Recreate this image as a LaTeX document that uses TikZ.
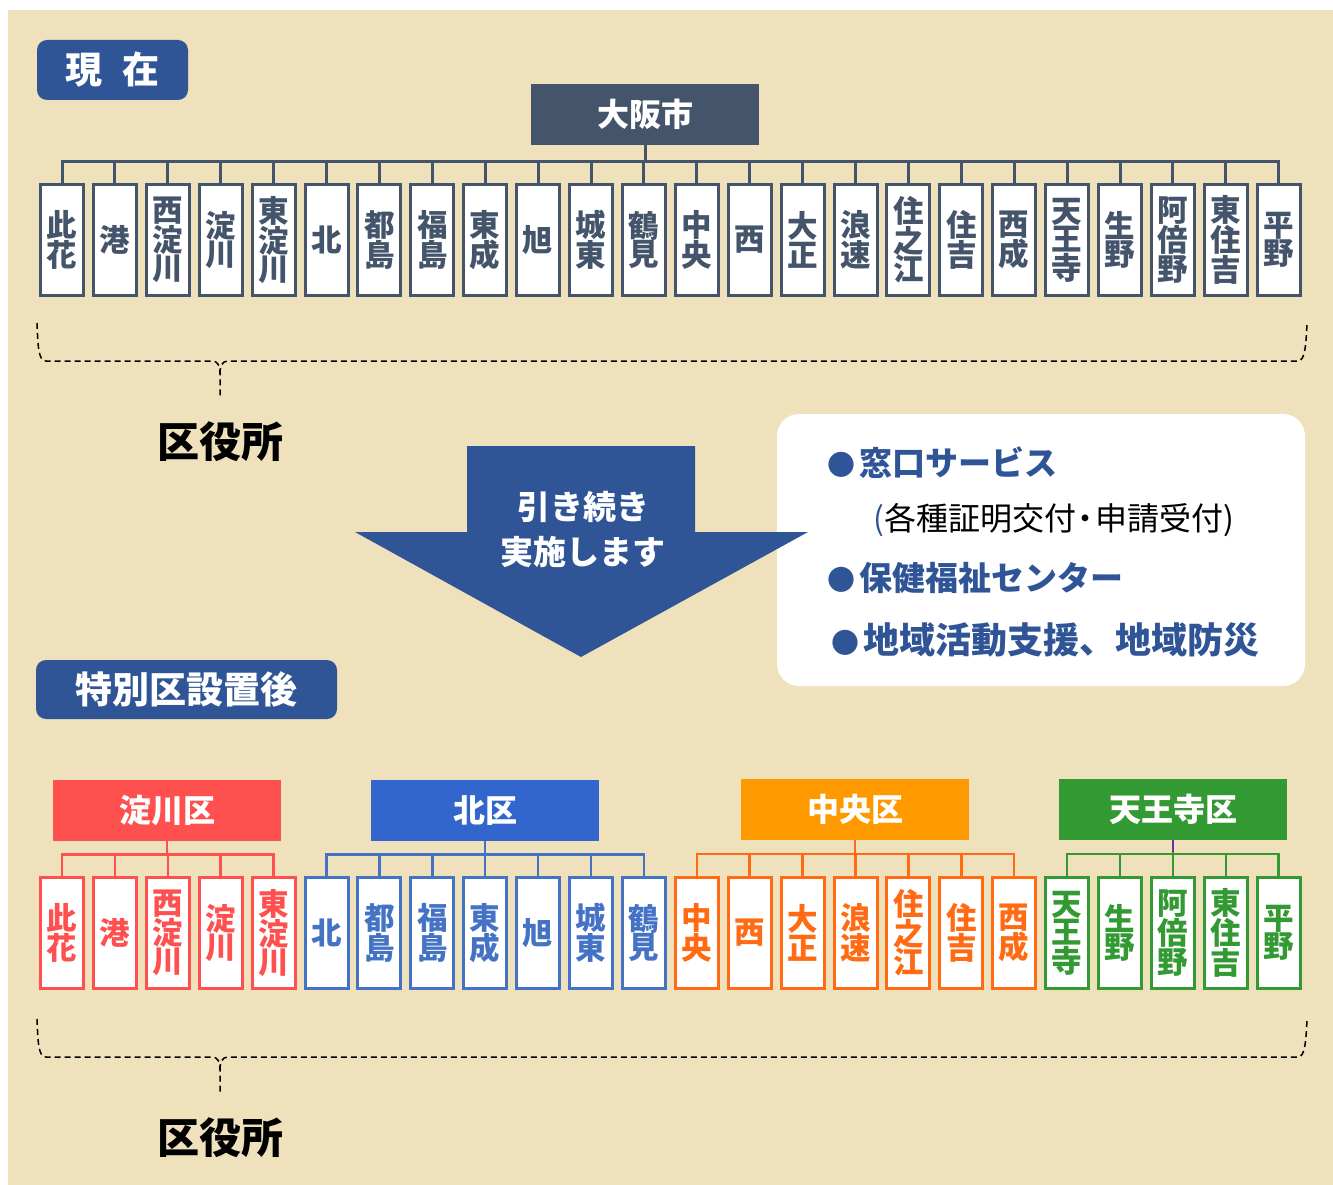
\documentclass[tikz,border=0pt]{standalone}
\usepackage{fontspec}
\newfontfamily\jpfont{Noto Sans CJK JP}

\definecolor{beige}{HTML}{EFE1BB}
\definecolor{navy}{HTML}{2F5597}
\definecolor{slate}{HTML}{44546A}
\definecolor{wardred}{HTML}{FF5050}
\definecolor{headblue}{HTML}{3366CC}
\definecolor{wardblue}{HTML}{4472C4}
\definecolor{headorange}{HTML}{FF9900}
\definecolor{wardorange}{HTML}{FF6A13}
\definecolor{wardgreen}{HTML}{339933}
\definecolor{stubpurple}{HTML}{7030A0}

\tikzset{
	ward/.style={draw=#1, text=#1, fill=white, line width=3pt, minimum width=43pt, minimum height=111pt, inner sep=0pt, align=center, font=\jpfont\bfseries\fontsize{30.5}{28.5}\selectfont},
	head/.style={fill=#1, text=white, minimum width=228pt, minimum height=61pt, inner sep=0pt, font=\jpfont\bfseries\fontsize{32}{32}\selectfont},
	badge/.style={fill=navy, text=white, rounded corners=10pt, inner sep=0pt, font=\jpfont\bfseries\fontsize{37}{37}\selectfont},
	bus/.style={draw=#1, line width=2.5pt},
	brace/.style={dash pattern=on 6pt off 4pt, line width=1.5pt},
	office/.style={font=\jpfont\bfseries\fontsize{42}{42}\selectfont},
	info/.style={anchor=west, inner sep=0pt, text=navy, font=\jpfont\bfseries\fontsize{33}{33}\selectfont}}
\tikzset{every picture/.style={line width=0.75pt}}
\newcommand{\dotmark}{{\fontsize{28}{28}\selectfont ●}\hspace{0.12em}}

\begin{document}
\begin{tikzpicture}[x=1pt,y=1pt,yscale=-1,xscale=1]
	\useasboundingbox (0,0) rectangle (1333,1185);
	%Shape: Rectangle [background]
	\fill [beige] (8,10) rectangle (1333,1185);

	% Text Node
	\node [badge, minimum width=151pt, minimum height=60pt] (now) at (112.5,70) {現\hspace{0.55em}在};
	% Text Node
	\node [head=slate, rounded corners=0pt] (osaka) at (645,114.5) {大阪市};

	%Current wards
	\node [ward=slate] (t0) at (62.0,240) {此\\花};
	\node [ward=slate] (t1) at (114.9,240) {港};
	\node [ward=slate] (t2) at (167.8,240) {西\\淀\\川};
	\node [ward=slate] (t3) at (220.7,240) {淀\\川};
	\node [ward=slate] (t4) at (273.6,240) {東\\淀\\川};
	\node [ward=slate] (t5) at (326.5,240) {北};
	\node [ward=slate] (t6) at (379.4,240) {都\\島};
	\node [ward=slate] (t7) at (432.3,240) {福\\島};
	\node [ward=slate] (t8) at (485.2,240) {東\\成};
	\node [ward=slate] (t9) at (538.1,240) {旭};
	\node [ward=slate] (t10) at (591.0,240) {城\\東};
	\node [ward=slate] (t11) at (643.9,240) {鶴\\見};
	\node [ward=slate] (t12) at (696.8,240) {中\\央};
	\node [ward=slate] (t13) at (749.7,240) {西};
	\node [ward=slate] (t14) at (802.6,240) {大\\正};
	\node [ward=slate] (t15) at (855.5,240) {浪\\速};
	\node [ward=slate] (t16) at (908.4,240) {住\\之\\江};
	\node [ward=slate] (t17) at (961.3,240) {住\\吉};
	\node [ward=slate] (t18) at (1014.2,240) {西\\成};
	\node [ward=slate] (t19) at (1067.1,240) {天\\王\\寺};
	\node [ward=slate] (t20) at (1120.0,240) {生\\野};
	\node [ward=slate] (t21) at (1172.9,240) {阿\\倍\\野};
	\node [ward=slate] (t22) at (1225.8,240) {東\\住\\吉};
	\node [ward=slate] (t23) at (1278.7,240) {平\\野};

	%Straight Lines [tree]
	\foreach \i in {0,...,23}
		\draw [bus=slate, line width=3pt] (osaka.south) -- ++(0,16) -| (t\i.north);

	%Curly brace [dashed]
	\draw [brace] (37,323) .. controls (38,345) and (38,361) .. (46,361) -- (212,361) .. controls (218,361) and (220,366) .. (220,374) -- (220,398);
	\draw [brace] (220,374) .. controls (220,366) and (222,361) .. (228,361) -- (1298,361) .. controls (1305,361) and (1306,345) .. (1307,323);
	% Text Node
	\node [office] (office1) at (220,442) {区役所};

	%Shape: Rounded Rectangle
	\fill [white, rounded corners=22pt] (777,414) rectangle (1305,686);
	%Shape: Down Arrow
	\fill [navy] (467,446) -- (695,446) -- (695,532) -- (808,532) -- (581,657) -- (355,532) -- (467,532) -- cycle;
	% Text Node
	\node [text=white, align=center, font=\jpfont\bfseries\fontsize{33}{45}\selectfont] (cont) at (583,529) {引き続き\\実施します};

	% Text Node
	\node [info] (svc1) at (827,463) {\dotmark 窓口サービス};
	\node [info, text=black, font=\jpfont\fontsize{32}{32}\selectfont] (svc1b) at (873,520) {{\color{navy}(}各種証明交付\hspace{-0.2em}・\hspace{-0.2em}申請受付)};
	\node [info] (svc2) at (827,578) {\dotmark 保健福祉センター};
	\node [info, font=\jpfont\bfseries\fontsize{36}{36}\selectfont] (svc3) at (831,640) {\dotmark 地域活動支援、地域防災};

	% Text Node
	\node [badge, minimum width=301pt, minimum height=59pt] (after) at (186.5,689.5) {特別区設置後};

	%Special wards
	\node [head=wardred] (yodogawa) at (167,810.5) {淀川区};
	\node [head=headblue] (kita) at (485,810.5) {北区};
	\node [head=headorange] (chuo) at (855,809) {中央区};
	\node [head=wardgreen] (tennoji) at (1173,809) {天王寺区};

	\node [ward=wardred] (b0) at (62.0,933) {此\\花};
	\node [ward=wardred] (b1) at (114.9,933) {港};
	\node [ward=wardred] (b2) at (167.8,933) {西\\淀\\川};
	\node [ward=wardred] (b3) at (220.7,933) {淀\\川};
	\node [ward=wardred] (b4) at (273.6,933) {東\\淀\\川};
	\node [ward=wardblue] (b5) at (326.5,933) {北};
	\node [ward=wardblue] (b6) at (379.4,933) {都\\島};
	\node [ward=wardblue] (b7) at (432.3,933) {福\\島};
	\node [ward=wardblue] (b8) at (485.2,933) {東\\成};
	\node [ward=wardblue] (b9) at (538.1,933) {旭};
	\node [ward=wardblue] (b10) at (591.0,933) {城\\東};
	\node [ward=wardblue] (b11) at (643.9,933) {鶴\\見};
	\node [ward=wardorange] (b12) at (696.8,933) {中\\央};
	\node [ward=wardorange] (b13) at (749.7,933) {西};
	\node [ward=wardorange] (b14) at (802.6,933) {大\\正};
	\node [ward=wardorange] (b15) at (855.5,933) {浪\\速};
	\node [ward=wardorange] (b16) at (908.4,933) {住\\之\\江};
	\node [ward=wardorange] (b17) at (961.3,933) {住\\吉};
	\node [ward=wardorange] (b18) at (1014.2,933) {西\\成};
	\node [ward=wardgreen] (b19) at (1067.1,933) {天\\王\\寺};
	\node [ward=wardgreen] (b20) at (1120.0,933) {生\\野};
	\node [ward=wardgreen] (b21) at (1172.9,933) {阿\\倍\\野};
	\node [ward=wardgreen] (b22) at (1225.8,933) {東\\住\\吉};
	\node [ward=wardgreen] (b23) at (1278.7,933) {平\\野};

	%Straight Lines [trees]
	\foreach \i in {0,...,4}
		\draw [bus=wardred] (yodogawa.south) -- ++(0,13) -| (b\i.north);
	\foreach \i in {5,...,11}
		\draw [bus=wardblue] (kita.south) -- ++(0,13) -| (b\i.north);
	\foreach \i in {12,...,18}
		\draw [bus=wardorange] (chuo.south) -- ++(0,14) -| (b\i.north);
	\foreach \i in {19,...,23}
		\draw [bus=wardgreen] (tennoji.south) -- ++(0,14) -| (b\i.north);
	\draw [bus=stubpurple] (tennoji.south) -- ++(0,12);

	%Curly brace [dashed]
	\begin{scope}[shift={(0,696)}]
		\draw [brace] (37,323) .. controls (38,345) and (38,361) .. (46,361) -- (212,361) .. controls (218,361) and (220,366) .. (220,374) -- (220,398);
		\draw [brace] (220,374) .. controls (220,366) and (222,361) .. (228,361) -- (1298,361) .. controls (1305,361) and (1306,345) .. (1307,323);
	\end{scope}
	% Text Node
	\node [office] (office2) at (220,1138) {区役所};

\end{tikzpicture}
\end{document}
